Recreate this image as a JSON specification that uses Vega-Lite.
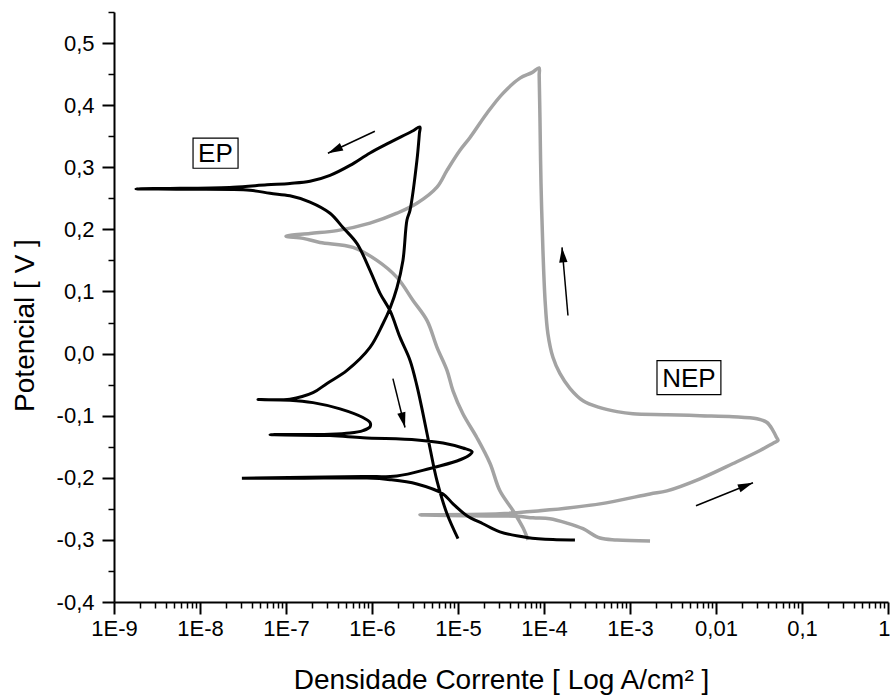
{
  "$schema": "https://vega.github.io/schema/vega-lite/v6.json",
  "width": 774,
  "height": 590,
  "autosize": "none",
  "padding": {"left": 114, "top": 12, "right": 2, "bottom": 93},
  "background": "white",
  "config": {"view": {"stroke": null}, "font": "Liberation Sans", "axis": {"grid": false}},
  "datasets": {
    "curves": [
      {"s":"EP","i":1,"x":2.29e-4,"y":-0.300},
      {"s":"EP","i":2,"x":1.27e-4,"y":-0.2995},
      {"s":"EP","i":3,"x":6.34e-5,"y":-0.296},
      {"s":"EP","i":4,"x":3.07e-5,"y":-0.287},
      {"s":"EP","i":5,"x":1.95e-5,"y":-0.274},
      {"s":"EP","i":6,"x":1.27e-5,"y":-0.261},
      {"s":"EP","i":7,"x":8.75e-6,"y":-0.242},
      {"s":"EP","i":8,"x":6.70e-6,"y":-0.226},
      {"s":"EP","i":9,"x":3.33e-6,"y":-0.210},
      {"s":"EP","i":10,"x":1.62e-6,"y":-0.203},
      {"s":"EP","i":11,"x":8.75e-7,"y":-0.2005},
      {"s":"EP","i":12,"x":1.46e-7,"y":-0.2007},
      {"s":"EP","i":13,"x":3.07e-8,"y":-0.2008},
      {"s":"EP","i":14,"x":7.85e-7,"y":-0.198},
      {"s":"EP","i":15,"x":1.95e-6,"y":-0.197},
      {"s":"EP","i":16,"x":4.72e-6,"y":-0.185},
      {"s":"EP","i":17,"x":9.72e-6,"y":-0.173},
      {"s":"EP","i":18,"x":1.31e-5,"y":-0.165},
      {"s":"EP","i":19,"x":1.46e-5,"y":-0.158},
      {"s":"EP","i":20,"x":1.14e-5,"y":-0.152},
      {"s":"EP","i":21,"x":6.70e-6,"y":-0.144},
      {"s":"EP","i":22,"x":3.33e-6,"y":-0.139},
      {"s":"EP","i":23,"x":7.85e-7,"y":-0.1355},
      {"s":"EP","i":24,"x":3.25e-7,"y":-0.132},
      {"s":"EP","i":25,"x":6.52e-8,"y":-0.1306},
      {"s":"EP","i":26,"x":3.25e-7,"y":-0.130},
      {"s":"EP","i":27,"x":5.55e-7,"y":-0.128},
      {"s":"EP","i":28,"x":7.85e-7,"y":-0.124},
      {"s":"EP","i":29,"x":9.48e-7,"y":-0.118},
      {"s":"EP","i":30,"x":9.48e-7,"y":-0.111},
      {"s":"EP","i":31,"x":7.85e-7,"y":-0.103},
      {"s":"EP","i":32,"x":4.25e-7,"y":-0.089},
      {"s":"EP","i":33,"x":2.06e-7,"y":-0.079},
      {"s":"EP","i":34,"x":1.11e-7,"y":-0.075},
      {"s":"EP","i":35,"x":4.72e-8,"y":-0.074},
      {"s":"EP","i":36,"x":1.11e-7,"y":-0.0734},
      {"s":"EP","i":37,"x":2.06e-7,"y":-0.063},
      {"s":"EP","i":38,"x":3.0e-7,"y":-0.048},
      {"s":"EP","i":39,"x":5.12e-7,"y":-0.027},
      {"s":"EP","i":40,"x":9.48e-7,"y":0.010},
      {"s":"EP","i":41,"x":1.34e-6,"y":0.048},
      {"s":"EP","i":42,"x":1.62e-6,"y":0.073},
      {"s":"EP","i":43,"x":1.95e-6,"y":0.106},
      {"s":"EP","i":44,"x":2.29e-6,"y":0.150},
      {"s":"EP","i":45,"x":2.55e-6,"y":0.215},
      {"s":"EP","i":46,"x":2.77e-6,"y":0.231},
      {"s":"EP","i":47,"x":3.33e-6,"y":0.311},
      {"s":"EP","i":48,"x":3.56e-6,"y":0.355},
      {"s":"EP","i":49,"x":3.61e-6,"y":0.365},
      {"s":"EP","i":50,"x":2.92e-6,"y":0.358},
      {"s":"EP","i":51,"x":1.62e-6,"y":0.340},
      {"s":"EP","i":52,"x":9.48e-7,"y":0.323},
      {"s":"EP","i":53,"x":5.55e-7,"y":0.303},
      {"s":"EP","i":54,"x":3.25e-7,"y":0.287},
      {"s":"EP","i":55,"x":1.90e-7,"y":0.2774},
      {"s":"EP","i":56,"x":1.11e-7,"y":0.274},
      {"s":"EP","i":57,"x":6.01e-8,"y":0.2718},
      {"s":"EP","i":58,"x":2.42e-8,"y":0.268},
      {"s":"EP","i":59,"x":5.85e-9,"y":0.2661},
      {"s":"EP","i":60,"x":1.80e-9,"y":0.2653},
      {"s":"EP","i":61,"x":5.85e-9,"y":0.2645},
      {"s":"EP","i":62,"x":3.81e-8,"y":0.263},
      {"s":"EP","i":63,"x":6.52e-8,"y":0.258},
      {"s":"EP","i":64,"x":1.11e-7,"y":0.254},
      {"s":"EP","i":65,"x":1.90e-7,"y":0.244},
      {"s":"EP","i":66,"x":3.25e-7,"y":0.226},
      {"s":"EP","i":67,"x":4.60e-7,"y":0.203},
      {"s":"EP","i":68,"x":6.70e-7,"y":0.177},
      {"s":"EP","i":69,"x":9.48e-7,"y":0.134},
      {"s":"EP","i":70,"x":1.24e-6,"y":0.097},
      {"s":"EP","i":71,"x":1.62e-6,"y":0.069},
      {"s":"EP","i":72,"x":2.12e-6,"y":0.026},
      {"s":"EP","i":73,"x":2.77e-6,"y":-0.011},
      {"s":"EP","i":74,"x":3.33e-6,"y":-0.052},
      {"s":"EP","i":75,"x":3.92e-6,"y":-0.097},
      {"s":"EP","i":76,"x":4.72e-6,"y":-0.152},
      {"s":"EP","i":77,"x":5.70e-6,"y":-0.205},
      {"s":"EP","i":78,"x":7.45e-6,"y":-0.258},
      {"s":"EP","i":79,"x":1.0e-5,"y":-0.298},
      {"s":"NEP","i":1,"x":1.71e-3,"y":-0.3016},
      {"s":"NEP","i":2,"x":7.06e-4,"y":-0.300},
      {"s":"NEP","i":3,"x":4.48e-4,"y":-0.297},
      {"s":"NEP","i":4,"x":2.84e-4,"y":-0.282},
      {"s":"NEP","i":5,"x":1.85e-4,"y":-0.273},
      {"s":"NEP","i":6,"x":1.17e-4,"y":-0.266},
      {"s":"NEP","i":7,"x":7.45e-5,"y":-0.2645},
      {"s":"NEP","i":8,"x":4.85e-5,"y":-0.262},
      {"s":"NEP","i":9,"x":1.38e-5,"y":-0.2613},
      {"s":"NEP","i":10,"x":3.61e-6,"y":-0.2597},
      {"s":"NEP","i":11,"x":3.07e-5,"y":-0.258},
      {"s":"NEP","i":12,"x":1.17e-4,"y":-0.2516},
      {"s":"NEP","i":13,"x":4.48e-4,"y":-0.242},
      {"s":"NEP","i":14,"x":1.71e-3,"y":-0.226},
      {"s":"NEP","i":15,"x":2.69e-3,"y":-0.221},
      {"s":"NEP","i":16,"x":6.52e-3,"y":-0.2016},
      {"s":"NEP","i":17,"x":1.58e-2,"y":-0.177},
      {"s":"NEP","i":18,"x":3.25e-2,"y":-0.156},
      {"s":"NEP","i":19,"x":4.72e-2,"y":-0.1435},
      {"s":"NEP","i":20,"x":5.26e-2,"y":-0.140},
      {"s":"NEP","i":21,"x":5.05e-2,"y":-0.1347},
      {"s":"NEP","i":22,"x":4.60e-2,"y":-0.124},
      {"s":"NEP","i":23,"x":3.92e-2,"y":-0.111},
      {"s":"NEP","i":24,"x":3.00e-2,"y":-0.105},
      {"s":"NEP","i":25,"x":1.58e-2,"y":-0.1016},
      {"s":"NEP","i":26,"x":6.52e-3,"y":-0.100},
      {"s":"NEP","i":27,"x":2.69e-3,"y":-0.0984},
      {"s":"NEP","i":28,"x":1.08e-3,"y":-0.097},
      {"s":"NEP","i":29,"x":7.06e-4,"y":-0.0935},
      {"s":"NEP","i":30,"x":4.48e-4,"y":-0.087},
      {"s":"NEP","i":31,"x":2.84e-4,"y":-0.076},
      {"s":"NEP","i":32,"x":2.00e-4,"y":-0.056},
      {"s":"NEP","i":33,"x":1.53e-4,"y":-0.032},
      {"s":"NEP","i":34,"x":1.27e-4,"y":-0.006},
      {"s":"NEP","i":35,"x":1.11e-4,"y":0.032},
      {"s":"NEP","i":36,"x":1.03e-4,"y":0.085},
      {"s":"NEP","i":37,"x":9.72e-5,"y":0.166},
      {"s":"NEP","i":38,"x":9.23e-5,"y":0.274},
      {"s":"NEP","i":39,"x":8.97e-5,"y":0.381},
      {"s":"NEP","i":40,"x":8.79e-5,"y":0.448},
      {"s":"NEP","i":41,"x":8.75e-5,"y":0.460},
      {"s":"NEP","i":42,"x":7.24e-5,"y":0.4524},
      {"s":"NEP","i":43,"x":5.26e-5,"y":0.4435},
      {"s":"NEP","i":44,"x":3.33e-5,"y":0.419},
      {"s":"NEP","i":45,"x":2.17e-5,"y":0.387},
      {"s":"NEP","i":46,"x":1.38e-5,"y":0.348},
      {"s":"NEP","i":47,"x":1.05e-5,"y":0.327},
      {"s":"NEP","i":48,"x":7.45e-6,"y":0.295},
      {"s":"NEP","i":49,"x":5.70e-6,"y":0.268},
      {"s":"NEP","i":50,"x":3.33e-6,"y":0.242},
      {"s":"NEP","i":51,"x":1.95e-6,"y":0.226},
      {"s":"NEP","i":52,"x":9.48e-7,"y":0.210},
      {"s":"NEP","i":53,"x":3.92e-7,"y":0.198},
      {"s":"NEP","i":54,"x":1.90e-7,"y":0.1935},
      {"s":"NEP","i":55,"x":1.0e-7,"y":0.189},
      {"s":"NEP","i":56,"x":1.58e-7,"y":0.1855},
      {"s":"NEP","i":57,"x":2.48e-7,"y":0.179},
      {"s":"NEP","i":58,"x":6.01e-7,"y":0.171},
      {"s":"NEP","i":59,"x":1.14e-6,"y":0.150},
      {"s":"NEP","i":60,"x":1.95e-6,"y":0.1226},
      {"s":"NEP","i":61,"x":3.00e-6,"y":0.0855},
      {"s":"NEP","i":62,"x":4.37e-6,"y":0.053},
      {"s":"NEP","i":63,"x":5.70e-6,"y":0.010},
      {"s":"NEP","i":64,"x":7.45e-6,"y":-0.027},
      {"s":"NEP","i":65,"x":8.75e-6,"y":-0.060},
      {"s":"NEP","i":66,"x":1.14e-5,"y":-0.097},
      {"s":"NEP","i":67,"x":1.66e-5,"y":-0.1355},
      {"s":"NEP","i":68,"x":2.36e-5,"y":-0.177},
      {"s":"NEP","i":69,"x":3.07e-5,"y":-0.221},
      {"s":"NEP","i":70,"x":4.37e-5,"y":-0.253},
      {"s":"NEP","i":71,"x":5.70e-5,"y":-0.2806},
      {"s":"NEP","i":72,"x":6.52e-5,"y":-0.300}
    ],
    "arrows": [
      {"a":"a1","x":1.08e-6,"y":0.358,"x2":3.07e-7,"y2":0.3226},
      {"a":"a2","x":1.75e-6,"y":-0.0403,"x2":2.42e-6,"y2":-0.119},
      {"a":"a3","x":1.90e-4,"y":0.0613,"x2":1.62e-4,"y2":0.171},
      {"a":"a4","x":5.85e-3,"y":-0.245,"x2":2.69e-2,"y2":-0.208}
    ],
    "labels": [
      {"t":"EP","x":1.51e-8,"y":0.3226,"x1":8.3e-9,"x2":2.77e-8,"y1":0.3468,"y2":0.2984},
      {"t":"NEP","x":4.85e-3,"y":-0.0387,"x1":2.06e-3,"x2":1.14e-2,"y1":-0.0113,"y2":-0.066}
    ]
  },
  "resolve": {"axis": {"x": "independent", "y": "independent"}},
  "layer": [
    {
      "data": {"name": "curves"},
      "transform": [{"filter": "datum.s === 'NEP'"}],
      "mark": {"type": "line", "color": "#a3a3a3", "strokeWidth": 3.5, "interpolate": "catmull-rom"},
      "encoding": {
        "x": {"field": "x", "type": "quantitative",
          "scale": {"type": "log", "domain": [1e-9, 1], "nice": false},
          "axis": {
            "orient": "bottom",
            "title": "Densidade Corrente [ Log A/cm² ]",
            "values": [1e-9, 1e-8, 1e-7, 1e-6, 1e-5, 1e-4, 1e-3, 1e-2, 1e-1, 1],
            "labelExpr": "datum.value >= 0.5 ? '1' : datum.value >= 0.05 ? '0,1' : datum.value >= 0.005 ? '0,01' : '1E' + round(log(datum.value)/LN10)",
            "labelAlign": {"condition": {"test": "datum.value >= 0.5", "value": "right"}, "value": "center"},
            "labelOffset": {"condition": {"test": "datum.value >= 0.5", "value": 2}, "value": 0},
            "tickSize": 12, "tickWidth": 2, "tickColor": "black",
            "domainColor": "black", "domainWidth": 2,
            "labelFont": "Liberation Sans", "labelFontSize": 22, "labelColor": "black", "labelPadding": 4,
            "labelOverlap": false, "labelFlush": false,
            "titleFont": "Liberation Sans", "titleFontSize": 28, "titleFontWeight": "normal", "titleColor": "black",
            "titleBaseline": "alphabetic", "titleAlign": "center", "titleX": 387, "titleY": 86
          }},
        "y": {"field": "y", "type": "quantitative",
          "scale": {"domain": [-0.4, 0.55], "nice": false, "zero": false},
          "axis": {
            "orient": "left",
            "title": "Potencial [ V ]",
            "values": [-0.4, -0.3, -0.2, -0.1, 0, 0.1, 0.2, 0.3, 0.4, 0.5],
            "labelExpr": "(datum.value < -0.001 ? '-' : '') + '0,' + round(abs(datum.value) * 10)",
            "tickSize": 12, "tickWidth": 2, "tickColor": "black",
            "domainColor": "black", "domainWidth": 2,
            "labelFont": "Liberation Sans", "labelFontSize": 22, "labelColor": "black", "labelPadding": 8,
            "labelOverlap": false, "labelFlush": false,
            "titleFont": "Liberation Sans", "titleFontSize": 28, "titleFontWeight": "normal", "titleColor": "black",
            "titleAngle": 270, "titleBaseline": "alphabetic", "titleAlign": "center", "titleX": -81, "titleY": 313
          }},
        "order": {"field": "i", "type": "quantitative"}
      }
    },
    {
      "data": {"name": "curves"},
      "transform": [{"filter": "datum.s === 'EP'"}],
      "mark": {"type": "line", "color": "black", "strokeWidth": 3, "interpolate": "catmull-rom"},
      "encoding": {
        "x": {"field": "x", "type": "quantitative", "scale": {"type": "log", "domain": [1e-9, 1], "nice": false}, "axis": null},
        "y": {"field": "y", "type": "quantitative", "scale": {"domain": [-0.4, 0.55], "nice": false, "zero": false}, "axis": null},
        "order": {"field": "i", "type": "quantitative"}
      }
    },
    {
      "data": {"name": "arrows"},
      "mark": {"type": "rule", "color": "black", "strokeWidth": 1.5},
      "encoding": {
        "x": {"field": "x", "type": "quantitative", "scale": {"type": "log", "domain": [1e-9, 1], "nice": false},
          "axis": {
            "orient": "bottom", "title": null, "labels": false, "domain": false, "grid": false,
            "tickSize": 6, "tickWidth": 1.5, "tickColor": "black",
            "values": [2e-9,3e-9,4e-9,5e-9,6e-9,7e-9,8e-9,9e-9,2e-8,3e-8,4e-8,5e-8,6e-8,7e-8,8e-8,9e-8,2e-7,3e-7,4e-7,5e-7,6e-7,7e-7,8e-7,9e-7,2e-6,3e-6,4e-6,5e-6,6e-6,7e-6,8e-6,9e-6,2e-5,3e-5,4e-5,5e-5,6e-5,7e-5,8e-5,9e-5,2e-4,3e-4,4e-4,5e-4,6e-4,7e-4,8e-4,9e-4,2e-3,3e-3,4e-3,5e-3,6e-3,7e-3,8e-3,9e-3,2e-2,3e-2,4e-2,5e-2,6e-2,7e-2,8e-2,9e-2,0.2,0.3,0.4,0.5,0.6,0.7,0.8,0.9]
          }},
        "x2": {"field": "x2"},
        "y": {"field": "y", "type": "quantitative", "scale": {"domain": [-0.4, 0.55], "nice": false, "zero": false},
          "axis": {
            "orient": "left", "title": null, "labels": false, "domain": false, "grid": false,
            "tickSize": 6, "tickWidth": 1.5, "tickColor": "black",
            "values": [-0.35, -0.25, -0.15, -0.05, 0.05, 0.15, 0.25, 0.35, 0.45, 0.55]
          }},
        "y2": {"field": "y2"}
      }
    },
    {
      "data": {"name": "arrows"},
      "transform": [{"filter": "datum.a === 'a1'"}],
      "mark": {"type": "point", "shape": "M0,0L0.55,2L-0.55,2Z", "filled": true, "opacity": 1, "color": "black", "size": 230, "angle": 245},
      "encoding": {
        "x": {"field": "x2", "type": "quantitative", "scale": {"type": "log", "domain": [1e-9, 1], "nice": false}, "axis": null},
        "y": {"field": "y2", "type": "quantitative", "scale": {"domain": [-0.4, 0.55], "nice": false, "zero": false}, "axis": null}
      }
    },
    {
      "data": {"name": "arrows"},
      "transform": [{"filter": "datum.a === 'a2'"}],
      "mark": {"type": "point", "shape": "M0,0L0.55,2L-0.55,2Z", "filled": true, "opacity": 1, "color": "black", "size": 230, "angle": 166},
      "encoding": {
        "x": {"field": "x2", "type": "quantitative", "scale": {"type": "log", "domain": [1e-9, 1], "nice": false}, "axis": null},
        "y": {"field": "y2", "type": "quantitative", "scale": {"domain": [-0.4, 0.55], "nice": false, "zero": false}, "axis": null}
      }
    },
    {
      "data": {"name": "arrows"},
      "transform": [{"filter": "datum.a === 'a3'"}],
      "mark": {"type": "point", "shape": "M0,0L0.55,2L-0.55,2Z", "filled": true, "opacity": 1, "color": "black", "size": 230, "angle": 355},
      "encoding": {
        "x": {"field": "x2", "type": "quantitative", "scale": {"type": "log", "domain": [1e-9, 1], "nice": false}, "axis": null},
        "y": {"field": "y2", "type": "quantitative", "scale": {"domain": [-0.4, 0.55], "nice": false, "zero": false}, "axis": null}
      }
    },
    {
      "data": {"name": "arrows"},
      "transform": [{"filter": "datum.a === 'a4'"}],
      "mark": {"type": "point", "shape": "M0,0L0.55,2L-0.55,2Z", "filled": true, "opacity": 1, "color": "black", "size": 230, "angle": 68},
      "encoding": {
        "x": {"field": "x2", "type": "quantitative", "scale": {"type": "log", "domain": [1e-9, 1], "nice": false}, "axis": null},
        "y": {"field": "y2", "type": "quantitative", "scale": {"domain": [-0.4, 0.55], "nice": false, "zero": false}, "axis": null}
      }
    },
    {
      "data": {"name": "labels"},
      "mark": {"type": "rect", "fillOpacity": 0, "stroke": "black", "strokeWidth": 1.2},
      "encoding": {
        "x": {"field": "x1", "type": "quantitative", "scale": {"type": "log", "domain": [1e-9, 1], "nice": false}, "axis": null},
        "x2": {"field": "x2"},
        "y": {"field": "y1", "type": "quantitative", "scale": {"domain": [-0.4, 0.55], "nice": false, "zero": false}, "axis": null},
        "y2": {"field": "y2"}
      }
    },
    {
      "data": {"name": "labels"},
      "mark": {"type": "text", "font": "Liberation Sans", "fontSize": 26, "color": "black", "align": "center", "baseline": "middle", "dy": 1},
      "encoding": {
        "x": {"field": "x", "type": "quantitative", "scale": {"type": "log", "domain": [1e-9, 1], "nice": false}, "axis": null},
        "y": {"field": "y", "type": "quantitative", "scale": {"domain": [-0.4, 0.55], "nice": false, "zero": false}, "axis": null},
        "text": {"field": "t", "type": "nominal"}
      }
    }
  ]
}
